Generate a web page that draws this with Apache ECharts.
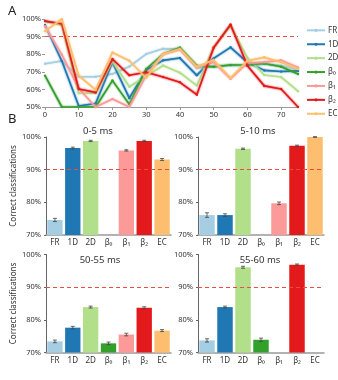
<!DOCTYPE html>
<html>
<head>
<meta charset="utf-8">
<script src="https://cdn.jsdelivr.net/npm/echarts@6/dist/echarts.min.js"></script>
<style>
  html, body { margin: 0; padding: 0; background: #fff; }
  #chart { width: 338px; height: 380px; }
</style>
</head>
<body>
<div id="chart"></div>
<script>
// time points (ms) of panel A
const times = [0, 5, 10, 15, 20, 25, 30, 35, 40, 45, 50, 55, 60, 65, 70, 75]
const names = ['FR', '1D', '2D', 'β₀', 'β₁', 'β₂', 'EC']

// correct classifications (%) per measure
const frVals = [74.6, 76.1, 67.2, 67.2, 68.8, 73.0, 80.1, 83.1, 83.0, 72.0, 73.4, 73.7, 73.5, 74.4, 73.5, 71.5]
const d1Vals = [96.6, 76.1, 50.6, 52.0, 75.4, 55.0, 71.0, 76.5, 77.8, 68.0, 77.6, 83.9, 75.4, 70.8, 70.2, 70.5]
const d2Vals = [98.8, 96.4, 57.8, 57.8, 76.0, 61.5, 67.5, 73.6, 69.5, 62.2, 83.9, 96.1, 78.0, 68.2, 67.0, 59.0]
const b0Vals = [67.8, 50.0, 50.0, 50.0, 65.0, 51.5, 71.6, 80.1, 83.8, 73.5, 72.8, 73.9, 74.0, 74.7, 72.9, 68.8]
const b1Vals = [95.9, 79.7, 60.5, 50.0, 54.5, 50.0, 68.0, 80.0, 82.5, 72.5, 75.5, 66.0, 75.0, 75.5, 76.5, 72.5]
const b2Vals = [98.8, 97.3, 60.2, 58.3, 77.3, 68.0, 69.7, 67.0, 64.0, 57.0, 83.7, 96.9, 73.5, 62.0, 60.2, 50.0]
const ecVals = [93.1, 100, 67.8, 59.7, 81.0, 76.3, 66.5, 80.1, 83.0, 72.9, 76.7, 66.5, 76.3, 78.2, 75.4, 71.6]
const allVals = [frVals, d1Vals, d2Vals, b0Vals, b1Vals, b2Vals, ecVals]

// panel B: windows shown as bars (index into times) and their error bars
const barTitles = ['0-5 ms', '5-10 ms', '50-55 ms', '55-60 ms']
const barTimeIdx = [0, 1, 10, 11]
const err0to5 = [0.5, 0.3, 0.2, 0, 0.2, 0.2, 0.3]
const err5to10 = [0.7, 0.4, 0.2, 0, 0.4, 0.2, 0.1]
const err50to55 = [0.4, 0.4, 0.3, 0.4, 0.4, 0.3, 0.3]
const err55to60 = [0.5, 0.3, 0.3, 0.5, 0, 0.2, 0]
const barErrs = [err0to5, err5to10, err50to55, err55to60]

const colors = ['#a6cee3', '#1f78b4', '#b2df8a', '#33a02c', '#fb9a99', '#e31a1c', '#fdbf6f']
const font = 'Noto Sans, sans-serif'
const txt = '#333'
const dashRed = '#ee4b45'

const chart = echarts.init(document.getElementById('chart'))

const grids = [
  { left: 45, top: 19, width: 253, height: 88 },
  { left: 46, top: 137, width: 125, height: 98 },
  { left: 198, top: 137, width: 126, height: 98 },
  { left: 46, top: 254.5, width: 125, height: 98 },
  { left: 198, top: 254.5, width: 126, height: 98 }
]

const xAxes = [{
  type: 'value', gridIndex: 0, min: 0, max: 75, interval: 10,
  axisLine: { lineStyle: { color: '#999', width: 1 } },
  axisTick: { length: 3, lineStyle: { color: '#999' } },
  axisLabel: { fontSize: 7.5, color: txt, margin: 4, showMaxLabel: false, fontFamily: font },
  splitLine: { show: false }
}]
const yAxes = [{
  type: 'value', gridIndex: 0, min: 50, max: 100, interval: 10,
  axisLine: { show: false },
  axisTick: { show: true, length: 3, lineStyle: { color: '#999' } },
  axisLabel: { fontSize: 7.5, color: txt, margin: 4, formatter: '{value}%', fontFamily: font },
  splitLine: { show: false }
}]

const series = []

// panel A lines
names.forEach((n, i) => {
  series.push({
    name: n, type: 'line', xAxisIndex: 0, yAxisIndex: 0,
    data: times.map((t, k) => [t, allVals[i][k]]),
    symbol: 'circle', symbolSize: 2.5,
    itemStyle: { color: colors[i] },
    lineStyle: { width: 1.6, color: colors[i], shadowColor: colors[i], shadowBlur: 2 },
    z: 3 + i,
    markLine: i === 0 ? {
      silent: true, symbol: 'none', label: { show: false },
      lineStyle: { color: dashRed, type: [4, 3], width: 1 },
      data: [{ yAxis: 90 }]
    } : undefined
  })
})

// panel B bars
barTitles.forEach((title, p) => {
  const g = p + 1
  xAxes.push({
    type: 'category', gridIndex: g, data: names,
    axisLine: { lineStyle: { color: '#999', width: 1.5 } },
    axisTick: { show: false },
    axisLabel: { fontSize: 8, color: txt, margin: 4, fontFamily: font }
  })
  yAxes.push({
    type: 'value', gridIndex: g, min: 70, max: 100, interval: 10,
    name: (p % 2 === 0) ? 'Correct classifications' : '',
    nameLocation: 'middle', nameGap: 27,
    nameTextStyle: { fontSize: 8, color: txt, fontFamily: font },
    axisLine: { show: true, lineStyle: { color: '#666', width: 1 } },
    axisTick: { show: true, length: 2, lineStyle: { color: '#666' } },
    axisLabel: { fontSize: 7.5, color: txt, margin: 5, formatter: '{value}%', fontFamily: font },
    splitLine: { show: false }
  })
  const idx = barTimeIdx[p]
  const vals = allVals.map(v => v[idx])
  series.push({
    type: 'bar', xAxisIndex: g, yAxisIndex: g,
    barCategoryGap: '14%',
    data: vals.map((v, i) => v >= 70 ? { value: v, itemStyle: { color: colors[i] } } : '-'),
    markLine: {
      silent: true, symbol: 'none', label: { show: false },
      lineStyle: { color: dashRed, type: [4, 3], width: 1 },
      data: [{ yAxis: 90 }]
    }
  })
  const errData = []
  vals.forEach((v, i) => {
    const e = barErrs[p][i]
    if (v >= 70 && e > 0) errData.push([i, v - e, v + e])
  })
  series.push({
    type: 'custom', xAxisIndex: g, yAxisIndex: g, z: 10,
    data: errData,
    renderItem: (params, api) => {
      const lo = api.coord([api.value(0), api.value(1)])
      const hi = api.coord([api.value(0), api.value(2)])
      const w = 2
      const st = { stroke: '#444', lineWidth: 0.8 }
      return {
        type: 'group',
        children: [
          { type: 'line', shape: { x1: lo[0], y1: lo[1], x2: hi[0], y2: hi[1] }, style: st },
          { type: 'line', shape: { x1: lo[0] - w, y1: lo[1], x2: lo[0] + w, y2: lo[1] }, style: st },
          { type: 'line', shape: { x1: hi[0] - w, y1: hi[1], x2: hi[0] + w, y2: hi[1] }, style: st }
        ]
      }
    }
  })
})

const titlePos = [[98, 131], [258, 131], [100, 260], [260, 260]]

chart.setOption({
  animation: false,
  textStyle: { fontFamily: font },
  grid: grids,
  xAxis: xAxes,
  yAxis: yAxes,
  legend: {
    data: names,
    orient: 'vertical',
    left: 301, top: 20,
    itemWidth: 18, itemHeight: 4, itemGap: 3.2,
    textStyle: { fontSize: 8, color: txt, fontFamily: font, lineHeight: 10.7, padding: [0, 0, 0, -2] }
  },
  graphic: [
    { type: 'text', left: 8, top: 5, style: { text: 'A', fill: '#222', font: '13px ' + font } },
    { type: 'text', left: 8, top: 113, style: { text: 'B', fill: '#222', font: '13px ' + font } }
  ].concat(barTitles.map((t, p) => ({
    type: 'text', x: titlePos[p][0], y: titlePos[p][1],
    style: { text: t, fill: txt, font: '9.5px ' + font, textAlign: 'center', textVerticalAlign: 'middle' }
  }))),
  series: series
})
</script>
</body>
</html>
